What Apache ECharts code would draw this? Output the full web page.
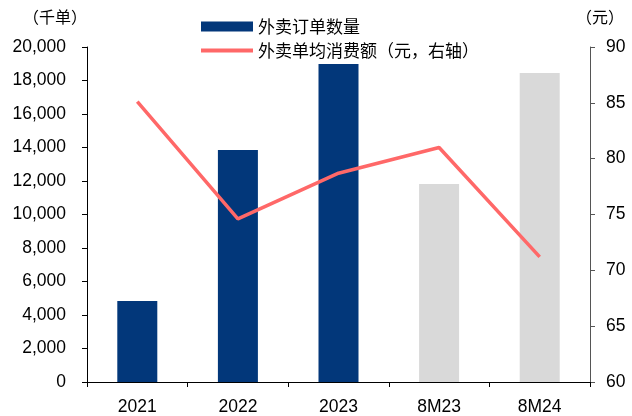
<!DOCTYPE html>
<html>
<head>
<meta charset="utf-8">
<script src="https://cdn.jsdelivr.net/npm/echarts@6/dist/echarts.min.js"></script>
<style>
  html, body { margin: 0; padding: 0; background: #fff; }
  #chart { width: 632px; height: 416px; }
</style>
</head>
<body>
<div id="chart"></div>
<script>
// Categories and series values
const categories = ['2021', '2022', '2023', '8M23', '8M24'];
const orderCounts = [4830, 13850, 18990, 11820, 18450];        // 千单
const avgSpend = [85.1, 74.6, 78.7, 81.0, 71.2];               // 元
const barName = '外卖订单数量';
const lineName = '外卖单均消费额（元，右轴）';
const leftUnit = '（千单）';
const rightUnit = '（元）';

const NAVY = '#02377A';
const GREY = '#D9D9D9';
const RED = '#FF6868';
const numFont = 'Liberation Sans, Arial, sans-serif';
const cjkFont = 'Noto Sans CJK SC, sans-serif';
const legendText = { fontFamily: cjkFont, fontSize: 17, color: '#000' };

// Full-year bars in navy, year-to-date bars in grey
const barData = orderCounts.map((v, i) => ({
  value: v,
  itemStyle: { color: categories[i].startsWith('8M') ? GREY : NAVY }
}));

const chart = echarts.init(document.getElementById('chart'), null, { renderer: 'canvas' });
chart.setOption({
  animation: false,
  backgroundColor: '#fff',
  grid: { left: 87, right: 42, top: 47, bottom: 34 },
  legend: [
    {
      left: 196, top: 13,
      itemWidth: 52, itemHeight: 10,
      textStyle: legendText,
      data: [{ name: barName, icon: 'rect', itemStyle: { color: NAVY } }]
    },
    {
      left: 196, top: 37,
      itemWidth: 52, itemHeight: 4,
      textStyle: legendText,
      data: [{ name: lineName, icon: 'rect', itemStyle: { color: RED } }]
    }
  ],
  xAxis: {
    type: 'category',
    data: categories,
    axisLine: { lineStyle: { color: '#000', width: 1 } },
    axisTick: { show: true, length: 5, lineStyle: { color: '#000' } },
    axisLabel: { fontFamily: numFont, fontSize: 17.5, color: '#000', margin: 16 }
  },
  yAxis: [
    {
      type: 'value',
      min: 0, max: 20000, interval: 2000,
      name: leftUnit,
      nameLocation: 'end',
      nameGap: 22,
      nameTextStyle: { fontFamily: cjkFont, fontSize: 16, color: '#000', align: 'center', padding: [0, 0, 0, -64] },
      axisLine: { show: true, lineStyle: { color: '#000' } },
      axisTick: { show: true, length: 5, lineStyle: { color: '#000' } },
      splitLine: { show: false },
      axisLabel: {
        fontFamily: numFont, fontSize: 17.5, color: '#000', margin: 21,
        formatter: v => v.toLocaleString('en-US')
      }
    },
    {
      type: 'value',
      min: 60, max: 90, interval: 5,
      name: rightUnit,
      nameLocation: 'end',
      nameGap: 22,
      nameTextStyle: { fontFamily: cjkFont, fontSize: 16, color: '#000', align: 'center', padding: [0, 0, 0, 20] },
      axisLine: { show: true, lineStyle: { color: '#555' } },
      axisTick: { show: true, length: 5, lineStyle: { color: '#555' } },
      splitLine: { show: false },
      axisLabel: { fontFamily: numFont, fontSize: 17.5, color: '#000', margin: 16 }
    }
  ],
  series: [
    {
      name: barName,
      type: 'bar',
      yAxisIndex: 0,
      barWidth: 40,
      itemStyle: { color: NAVY },
      data: barData
    },
    {
      name: lineName,
      type: 'line',
      yAxisIndex: 1,
      symbol: 'none',
      lineStyle: { color: RED, width: 3.5 },
      itemStyle: { color: RED },
      data: avgSpend
    }
  ]
});
</script>
</body>
</html>
